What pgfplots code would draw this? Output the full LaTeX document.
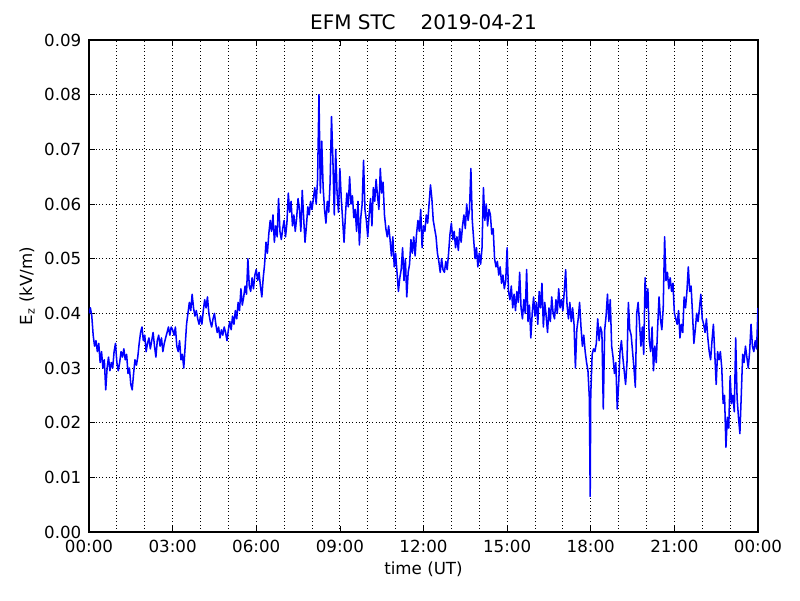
\documentclass[border=0pt]{standalone}
\usepackage{fontspec}
\setmainfont{DejaVu Sans}
\usepackage{pgfplots}
\usepackage{pgfplotstable}
\pgfplotsset{compat=1.18}

% E_z in kV/m, time in hours UT
\pgfplotstableread{
t ez
0.00 0.0400
0.05 0.0410
0.10 0.0395
0.15 0.0360
0.20 0.0340
0.25 0.0350
0.30 0.0330
0.35 0.0345
0.40 0.0310
0.45 0.0330
0.50 0.0300
0.55 0.0315
0.60 0.0260
0.65 0.0300
0.70 0.0320
0.75 0.0295
0.80 0.0310
0.85 0.0300
0.90 0.0330
0.95 0.0345
1.00 0.0310
1.05 0.0295
1.10 0.0310
1.15 0.0330
1.20 0.0320
1.25 0.0335
1.30 0.0315
1.35 0.0325
1.40 0.0290
1.45 0.0300
1.50 0.0270
1.55 0.0260
1.60 0.0290
1.65 0.0315
1.70 0.0305
1.75 0.0320
1.80 0.0345
1.85 0.0365
1.90 0.0375
1.95 0.0350
2.00 0.0360
2.05 0.0330
2.10 0.0345
2.15 0.0355
2.20 0.0335
2.25 0.0350
2.30 0.0365
2.35 0.0340
2.40 0.0320
2.45 0.0350
2.50 0.0360
2.55 0.0340
2.60 0.0355
2.65 0.0330
2.70 0.0345
2.75 0.0355
2.80 0.0365
2.85 0.0375
2.90 0.0360
2.95 0.0375
3.00 0.0370
3.05 0.0360
3.10 0.0375
3.15 0.0340
3.20 0.0330
3.25 0.0350
3.30 0.0315
3.35 0.0325
3.40 0.0300
3.45 0.0340
3.50 0.0380
3.55 0.0400
3.60 0.0420
3.65 0.0405
3.70 0.0435
3.75 0.0410
3.80 0.0395
3.85 0.0405
3.90 0.0390
3.95 0.0380
4.00 0.0395
4.05 0.0380
4.10 0.0405
4.15 0.0425
4.20 0.0410
4.25 0.0430
4.30 0.0400
4.35 0.0385
4.40 0.0375
4.45 0.0390
4.50 0.0400
4.55 0.0380
4.60 0.0365
4.65 0.0375
4.70 0.0355
4.75 0.0370
4.80 0.0360
4.85 0.0375
4.90 0.0365
4.95 0.0350
5.00 0.0370
5.05 0.0385
5.10 0.0370
5.15 0.0395
5.20 0.0380
5.25 0.0405
5.30 0.0390
5.35 0.0420
5.40 0.0405
5.45 0.0445
5.50 0.0415
5.55 0.0430
5.60 0.0450
5.65 0.0435
5.70 0.0500
5.75 0.0450
5.80 0.0440
5.85 0.0465
5.90 0.0445
5.95 0.0470
6.00 0.0480
6.05 0.0460
6.10 0.0475
6.15 0.0450
6.20 0.0430
6.25 0.0465
6.30 0.0490
6.35 0.0530
6.40 0.0510
6.45 0.0545
6.50 0.0570
6.55 0.0550
6.60 0.0580
6.65 0.0530
6.70 0.0560
6.75 0.0540
6.80 0.0610
6.85 0.0550
6.90 0.0535
6.95 0.0555
7.00 0.0570
7.05 0.0540
7.10 0.0565
7.15 0.0620
7.20 0.0585
7.25 0.0605
7.30 0.0560
7.35 0.0580
7.40 0.0550
7.45 0.0575
7.50 0.0610
7.55 0.0590
7.60 0.0550
7.65 0.0625
7.70 0.0575
7.75 0.0530
7.80 0.0560
7.85 0.0595
7.90 0.0580
7.95 0.0605
8.00 0.0590
8.05 0.0610
8.10 0.0630
8.15 0.0600
8.20 0.0645
8.25 0.0800
8.30 0.0620
8.35 0.0715
8.40 0.0630
8.45 0.0590
8.50 0.0565
8.55 0.0605
8.60 0.0585
8.65 0.0640
8.70 0.0760
8.75 0.0680
8.80 0.0580
8.85 0.0700
8.90 0.0620
8.95 0.0585
9.00 0.0665
9.05 0.0610
9.10 0.0570
9.15 0.0530
9.20 0.0580
9.25 0.0620
9.30 0.0595
9.35 0.0650
9.40 0.0600
9.45 0.0615
9.50 0.0575
9.55 0.0590
9.60 0.0550
9.65 0.0605
9.70 0.0525
9.75 0.0575
9.80 0.0600
9.85 0.0680
9.90 0.0590
9.95 0.0570
10.00 0.0540
10.05 0.0580
10.10 0.0610
10.15 0.0560
10.20 0.0630
10.25 0.0605
10.30 0.0645
10.35 0.0615
10.40 0.0590
10.45 0.0665
10.50 0.0620
10.55 0.0640
10.60 0.0580
10.65 0.0555
10.70 0.0540
10.75 0.0560
10.80 0.0535
10.85 0.0505
10.90 0.0540
10.95 0.0485
11.00 0.0510
11.05 0.0475
11.10 0.0440
11.15 0.0465
11.20 0.0480
11.25 0.0520
11.30 0.0460
11.35 0.0500
11.40 0.0430
11.45 0.0475
11.50 0.0490
11.55 0.0535
11.60 0.0510
11.65 0.0540
11.70 0.0505
11.75 0.0545
11.80 0.0570
11.85 0.0550
11.90 0.0590
11.95 0.0520
12.00 0.0560
12.05 0.0550
12.10 0.0580
12.15 0.0565
12.20 0.0600
12.25 0.0635
12.30 0.0610
12.35 0.0570
12.40 0.0555
12.45 0.0540
12.50 0.0510
12.55 0.0495
12.60 0.0475
12.65 0.0500
12.70 0.0480
12.75 0.0475
12.80 0.0495
12.85 0.0480
12.90 0.0510
12.95 0.0545
13.00 0.0565
13.05 0.0535
13.10 0.0550
13.15 0.0520
13.20 0.0540
13.25 0.0515
13.30 0.0555
13.35 0.0530
13.40 0.0560
13.45 0.0580
13.50 0.0555
13.55 0.0600
13.60 0.0570
13.65 0.0590
13.70 0.0665
13.75 0.0570
13.80 0.0535
13.85 0.0500
13.90 0.0520
13.95 0.0485
14.00 0.0510
14.05 0.0490
14.10 0.0520
14.15 0.0630
14.20 0.0570
14.25 0.0600
14.30 0.0560
14.35 0.0590
14.40 0.0580
14.45 0.0545
14.50 0.0555
14.55 0.0500
14.60 0.0485
14.65 0.0495
14.70 0.0470
14.75 0.0485
14.80 0.0455
14.85 0.0470
14.90 0.0445
14.95 0.0460
15.00 0.0520
15.05 0.0440
15.10 0.0425
15.15 0.0450
15.20 0.0410
15.25 0.0435
15.30 0.0405
15.35 0.0440
15.40 0.0420
15.45 0.0475
15.50 0.0410
15.55 0.0390
15.60 0.0425
15.65 0.0400
15.70 0.0480
15.75 0.0385
15.80 0.0415
15.85 0.0355
15.90 0.0400
15.95 0.0430
16.00 0.0395
16.05 0.0420
16.10 0.0380
16.15 0.0440
16.20 0.0410
16.25 0.0455
16.30 0.0375
16.35 0.0420
16.40 0.0395
16.45 0.0365
16.50 0.0410
16.55 0.0385
16.60 0.0430
16.65 0.0400
16.70 0.0390
16.75 0.0425
16.80 0.0400
16.85 0.0445
16.90 0.0410
16.95 0.0425
17.00 0.0405
17.05 0.0440
17.10 0.0480
17.15 0.0415
17.20 0.0390
17.25 0.0420
17.30 0.0385
17.35 0.0410
17.40 0.0380
17.45 0.0300
17.50 0.0370
17.55 0.0390
17.60 0.0420
17.65 0.0375
17.70 0.0340
17.75 0.0360
17.80 0.0330
17.85 0.0310
17.90 0.0295
17.95 0.0245
17.98 0.0065
18.00 0.0250
18.05 0.0325
18.10 0.0335
18.15 0.0330
18.20 0.0345
18.25 0.0390
18.30 0.0350
18.35 0.0375
18.40 0.0365
18.45 0.0225
18.50 0.0370
18.55 0.0395
18.60 0.0435
18.65 0.0385
18.70 0.0425
18.75 0.0340
18.80 0.0320
18.85 0.0290
18.90 0.0310
18.95 0.0225
19.00 0.0270
19.05 0.0330
19.10 0.0350
19.15 0.0320
19.20 0.0295
19.25 0.0270
19.30 0.0310
19.35 0.0420
19.40 0.0370
19.45 0.0360
19.50 0.0330
19.55 0.0300
19.60 0.0265
19.65 0.0400
19.70 0.0420
19.75 0.0380
19.80 0.0340
19.85 0.0375
19.90 0.0325
19.95 0.0465
20.00 0.0410
20.05 0.0445
20.10 0.0350
20.15 0.0330
20.20 0.0375
20.25 0.0295
20.30 0.0340
20.35 0.0310
20.40 0.0375
20.45 0.0430
20.50 0.0390
20.55 0.0370
20.60 0.0410
20.65 0.0540
20.70 0.0460
20.75 0.0475
20.80 0.0445
20.85 0.0465
20.90 0.0440
20.95 0.0455
21.00 0.0400
21.05 0.0390
21.10 0.0380
21.15 0.0405
21.20 0.0355
21.25 0.0380
21.30 0.0365
21.35 0.0430
21.40 0.0410
21.45 0.0440
21.50 0.0485
21.55 0.0440
21.60 0.0450
21.65 0.0400
21.70 0.0345
21.75 0.0370
21.80 0.0400
21.85 0.0385
21.90 0.0410
21.95 0.0435
22.00 0.0390
22.05 0.0380
22.10 0.0365
22.15 0.0390
22.20 0.0355
22.25 0.0330
22.30 0.0315
22.35 0.0350
22.40 0.0380
22.45 0.0325
22.50 0.0270
22.55 0.0330
22.60 0.0315
22.65 0.0330
22.70 0.0300
22.75 0.0235
22.80 0.0250
22.85 0.0155
22.90 0.0210
22.95 0.0190
23.00 0.0285
23.05 0.0235
23.10 0.0250
23.15 0.0220
23.20 0.0355
23.25 0.0245
23.30 0.0210
23.35 0.0180
23.40 0.0250
23.45 0.0325
23.50 0.0310
23.55 0.0340
23.60 0.0320
23.65 0.0300
23.70 0.0330
23.75 0.0380
23.80 0.0340
23.85 0.0330
23.90 0.0350
23.95 0.0335
24.00 0.0410
}\efmdata

\begin{document}
\begin{tikzpicture}
\path[use as bounding box] (-64.08pt,-48.96pt) rectangle ++(576pt,432pt);
\begin{axis}[
  at={(0pt,0pt)}, anchor=south west,
  scale only axis, width=481.68pt, height=354.24pt,
  xmin=0, xmax=24, ymin=0, ymax=0.09,
  xtick={0,3,6,9,12,15,18,21,24},
  minor xtick={1,2,4,5,7,8,10,11,13,14,16,17,19,20,22,23},
  xticklabels={00:00,03:00,06:00,09:00,12:00,15:00,18:00,21:00,00:00},
  ytick={0,0.01,0.02,0.03,0.04,0.05,0.06,0.07,0.08,0.09},
  scaled y ticks=false,
  yticklabel style={/pgf/number format/fixed, /pgf/number format/fixed zerofill, /pgf/number format/precision=2, xshift=-2pt},
  /pgf/number format/assume math mode=true,
  tick align=inside, tick pos=both,
  major tick length=4pt, minor tick length=0pt,
  tick style={black, line width=0.5pt},
  xmajorgrids, xminorgrids, ymajorgrids,
  major grid style={black, dotted, line width=0.6pt},
  minor grid style={black, dotted, line width=0.6pt},
  axis line style={black, line width=0.8pt},
  ticklabel style={font=\fontsize{12}{14}\selectfont},
  xticklabel style={yshift=-2pt},
  title={EFM STC\hspace{18pt}2019-04-21},
  title style={font=\fontsize{14.4}{17}\selectfont, yshift=-2pt},
  xlabel={time (UT)}, ylabel={E\textsubscript{z} (kV/m)},
  label style={font=\fontsize{12}{14}\selectfont},
]
\addplot[blue, line width=1.1pt, line join=round] table[x=t, y=ez] {\efmdata};
\end{axis}
\end{tikzpicture}
\end{document}
